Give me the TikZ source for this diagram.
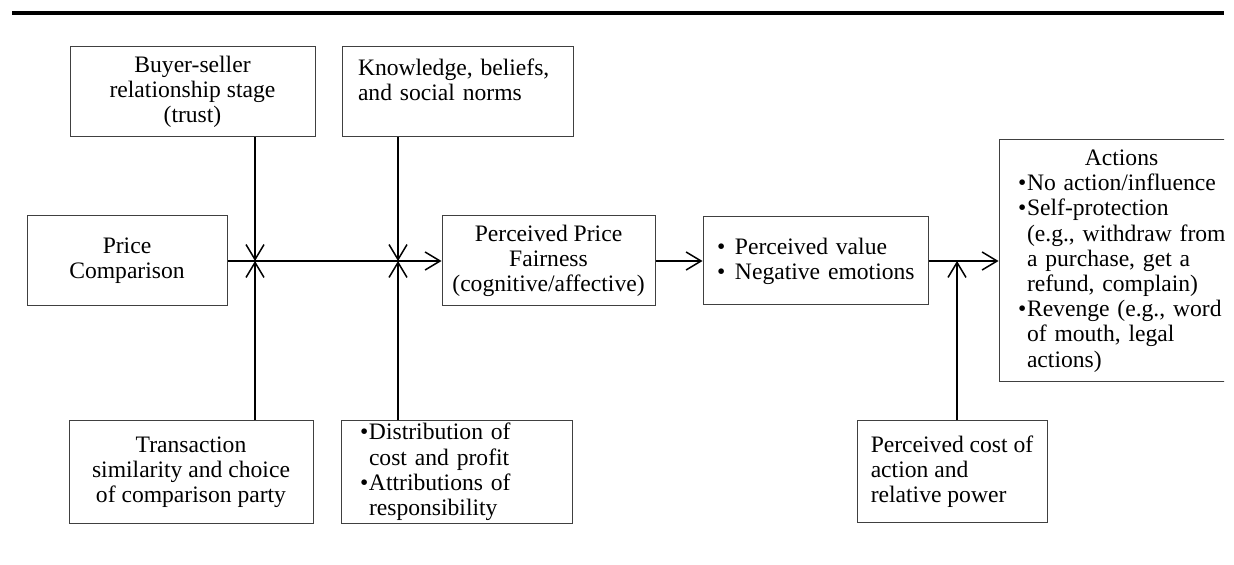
\documentclass[tikz,border=0pt]{standalone}
\usepackage{fontspec}
\setmainfont{Liberation Serif}
\usetikzlibrary{arrows.meta}
\usetikzlibrary{positioning}

\tikzset{
  box/.style={draw=black!75, line width=0.5pt, inner sep=0pt,
    font=\fontsize{11.8}{12.6}\selectfont},
  link/.style={line width=0.75pt, -{Straight Barb[length=7.5pt,width=9pt]}},
}
\newcommand{\bul}{\makebox[4.5pt][l]{\textbullet}}
\newcommand{\hang}{\hspace*{4.5pt}}

\begin{document}
\begin{tikzpicture}[x=0.5pt,y=-0.5pt]
\useasboundingbox (0,0) rectangle (1234,565);
\draw[line width=2pt] (12,13) -- (1224,13);

% upper and lower boxes
\node[box, minimum width=122.5pt, minimum height=45pt, align=center] (buyer) at (192.5,92) {Buyer-seller\\relationship stage\\(trust)};
\node[box, minimum width=115.5pt, minimum height=45pt, text width=99.5pt, align=left] (know) at (457.5,92) {\mbox{Knowledge, beliefs,}\\\mbox{and social norms}\\\mbox{}};
\node[box, minimum width=122pt, minimum height=51pt, align=center] (trans) at (191,472) {Transaction\\similarity and choice\\of comparison party};
\node[box, minimum width=115.5pt, minimum height=51pt, text width=96.5pt, align=left] (distr) at (456.5,472) {\mbox{\bul Distribution of}\\\mbox{\hang cost and profit}\\\mbox{\bul Attributions of}\\\mbox{\hang responsibility}};
\node[box, minimum width=95pt, minimum height=50.5pt, align=left] (cost) at (952,471.5) {Perceived cost of\\action and\\relative power};

% middle row
\node[box, minimum width=100pt, minimum height=45pt, align=center] (price) at (127,261) {Price\\Comparison};
\node[box, minimum width=106.5pt, minimum height=45pt, align=center] (fair) at (548.5,261) {Perceived Price\\Fairness\\(cognitive/affective)};
\node[box, minimum width=112.5pt, minimum height=44pt, text width=98.5pt, align=left] (value) at (815.5,261) {\mbox{\makebox[9pt][l]{\textbullet}Perceived value}\\\mbox{\makebox[9pt][l]{\textbullet}Negative emotions}};
\begin{scope}
\clip (0,0) rectangle (1224,565);
\node[box, minimum width=122.5pt, minimum height=121pt, text width=103.5pt, align=left] (act) at (1121.5,261) {\makebox[103.5pt]{Actions}\\\mbox{\bul No action/influence}\\\mbox{\bul Self-protection}\\\mbox{\hang (e.g., withdraw from}\\\mbox{\hang a purchase, get a}\\\mbox{\hang refund, complain)}\\\mbox{\bul Revenge (e.g., word}\\\mbox{\hang of mouth, legal}\\\mbox{\hang actions)}};
\end{scope}

% crossings
\coordinate (x1) at (255,261);
\coordinate (x2) at (398,261);
\coordinate (x3) at (957,261);

\draw[link] (price) -- (fair);
\draw[link] (x1 |- buyer.south) -- (x1);
\draw[link] (x1 |- trans.north) -- (x1);
\draw[link] (x2 |- know.south) -- (x2);
\draw[link] (x2 |- distr.north) -- (x2);
\draw[link] (fair) -- (value);
\draw[link] (value) -- (act);
\draw[link] (x3 |- cost.north) -- (x3);
\end{tikzpicture}
\end{document}
